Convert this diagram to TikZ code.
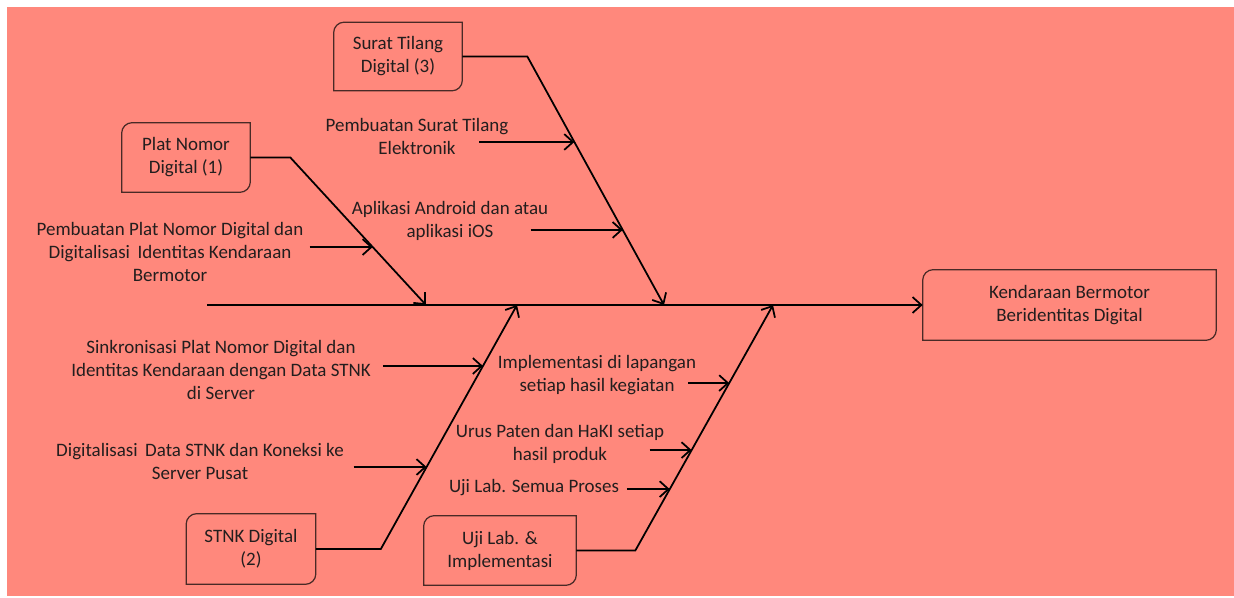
\documentclass[tikz,border=0pt]{standalone}
\usepackage{fontspec}
\setmainfont{Carlito}
\usetikzlibrary{arrows.meta,calc}
\definecolor{fishback}{RGB}{255,136,124}
\definecolor{frameline}{RGB}{72,42,38}
\definecolor{fishtextcol}{RGB}{35,30,30}

\newcommand\fishframe[1]{%
  \draw[frameline,line width=0.7pt] (#1.west)
    [rounded corners=6pt] -- (#1.north west)
    [sharp corners] -- (#1.north east)
    [rounded corners=6pt] -- (#1.south east)
    [sharp corners] -- (#1.south west) -- cycle;}

\tikzset{
  fishtext/.style={align=center,text=fishtextcol,inner sep=0pt,
    font=\fontsize{10.8}{13.1}\selectfont},
  causebox/.style={fishtext,minimum width=2.56cm,minimum height=1.36cm},
  bone/.style={line width=1pt,black},
  arr/.style={bone,-{Straight Barb[length=5pt,width=9pt]}}
}

\begin{document}
\begin{tikzpicture}[x=0.02cm,y=-0.02cm]
\useasboundingbox (0,0) rectangle (1234,598);
\fill[fishback] (7,7) rectangle (1234,596);

% kotak
\node[causebox] (surat) at (398,56.5) {Surat Tilang\\Digital (3)};
\node[causebox,minimum height=1.38cm] (plat) at (186,157.5) {Plat Nomor\\Digital (1)};
\node[causebox,minimum width=2.58cm,minimum height=1.4cm] (stnk) at (251,549) {STNK Digital\\(2)};
\node[causebox,minimum width=3.04cm,minimum height=1.38cm] (uji) at (500,550.5) {Uji Lab. \&\\Implementasi};
\node[causebox,minimum width=5.86cm,minimum height=1.4cm] (goal) at (1069.5,305) {Kendaraan Bermotor\\Beridentitas Digital};
\fishframe{surat}
\fishframe{plat}
\fishframe{stnk}
\fishframe{uji}
\fishframe{goal}

% tulang utama
\coordinate (tail) at (207,305);
\coordinate (j1) at (426,305);
\coordinate (j2) at (517,305);
\coordinate (j3) at (664,305);
\coordinate (j4) at (773,305);
\draw[arr] (tail) -- (goal.west);

\coordinate (b1) at ($(plat.east)+(40,0)$);
\coordinate (b2) at ($(stnk.east)+(65,0)$);
\coordinate (b3) at ($(surat.east)+(65,0)$);
\coordinate (b4) at ($(uji.east)+(59,0)$);
\draw[arr] (plat.east) -- (b1) -- (j1);
\draw[arr] (stnk.east) -- (b2) -- (j2);
\draw[arr] (surat.east) -- (b3) -- (j3);
\draw[arr] (uji.east) -- (b4) -- (j4);

% sebab
\node[fishtext] (tsa) at (417,136) {Pembuatan Surat Tilang\\Elektronik};
\node[fishtext] (tsb) at (450,221) {Aplikasi Android dan atau\\aplikasi iOS};
\node[fishtext] (tpa) at (170,252) {Pembuatan Plat Nomor Digital dan\\Digitalisasi\, Identitas Kendaraan\\Bermotor};
\node[fishtext] (tna) at (221,370) {Sinkronisasi Plat Nomor Digital dan\\Identitas Kendaraan dengan Data STNK\\di Server};
\node[fishtext] (tnb) at (200,461) {Digitalisasi\, Data STNK dan Koneksi ke\\Server Pusat};
\node[fishtext] (tua) at (597,375) {Implementasi di lapangan\\setiap hasil kegiatan};
\node[fishtext] (tub) at (560,444) {Urus Paten dan HaKI setiap\\hasil produk};
\node[fishtext] (tuc) at (534,488) {Uji Lab. Semua Proses};

\coordinate (psa) at ($(b3)!0.344!(j3)$);
\coordinate (psb) at ($(b3)!0.698!(j3)$);
\coordinate (ppa) at ($(b1)!0.607!(j1)$);
\coordinate (pna) at ($(b2)!0.75!(j2)$);
\coordinate (pnb) at ($(b2)!0.336!(j2)$);
\coordinate (pua) at ($(b4)!0.682!(j4)$);
\coordinate (pub) at ($(b4)!0.409!(j4)$);
\coordinate (puc) at ($(b4)!0.25!(j4)$);
\draw[arr] ($(psa)+(-95,0)$) -- (psa);
\draw[arr] ($(psb)+(-92,0)$) -- (psb);
\draw[arr] ($(ppa)+(-63,0)$) -- (ppa);
\draw[arr] ($(pna)+(-100,0)$) -- (pna);
\draw[arr] ($(pnb)+(-73,0)$) -- (pnb);
\draw[arr] ($(pua)+(-41,0)$) -- (pua);
\draw[arr] ($(pub)+(-42,0)$) -- (pub);
\draw[arr] ($(puc)+(-43,0)$) -- (puc);
\end{tikzpicture}
\end{document}
